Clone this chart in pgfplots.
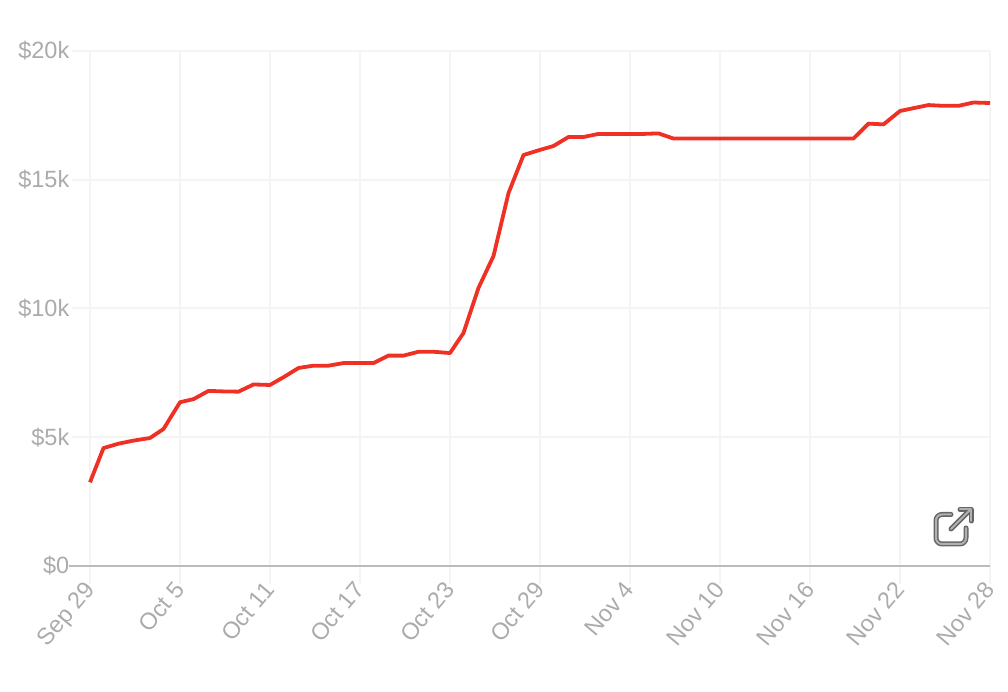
\documentclass[border=0pt]{standalone}
\usepackage{fontspec}
\setmainfont{Liberation Sans}
\usepackage{pgfplots}
\pgfplotsset{compat=1.18}
\usepackage{pgfplotstable}
\definecolor{gridc}{HTML}{F4F4F4}
\definecolor{axisc}{HTML}{BBBBBB}
\definecolor{labelc}{HTML}{ABABAB}
\definecolor{linec}{HTML}{EE3124}
\definecolor{iconc}{HTML}{666666}
\definecolor{iconi}{HTML}{B0B0B0}

% days since Sep 29, revenue in $k
\pgfplotstableread{
day value
0 3.25
0.9 4.58
1.9 4.75
2.9 4.87
4 4.97
4.9 5.32
6 6.36
6.9 6.48
7.9 6.80
8.9 6.78
9.9 6.77
10.9 7.05
12 7.03
12.9 7.33
13.9 7.69
14.9 7.78
15.9 7.78
16.9 7.88
18 7.88
18.9 7.88
19.9 8.17
20.9 8.17
21.9 8.32
22.9 8.32
24 8.27
24.9 9.05
25.9 10.80
26.9 12.04
27.9 14.48
28.9 15.96
30 16.16
30.9 16.31
31.9 16.66
32.9 16.66
33.9 16.78
34.9 16.78
36 16.78
36.9 16.78
37.9 16.80
38.9 16.60
39.9 16.60
40.9 16.60
42 16.60
42.9 16.60
43.9 16.60
44.9 16.60
45.9 16.60
46.9 16.60
48 16.60
48.9 16.60
49.9 16.60
50.9 16.60
51.9 17.18
52.9 17.15
54 17.67
54.9 17.78
55.9 17.90
56.9 17.87
57.9 17.87
58.9 18.00
60 17.98
}\revenue

\begin{document}
\begin{tikzpicture}[x=1bp,y=1bp]
\begin{axis}[
    at={(0,0)},
    anchor=south west,
    scale only axis,
    width=900bp,
    height=515bp,
    xmin=0, xmax=60,
    ymin=0, ymax=20,
    clip=false,
    axis line style={draw=none},
    xtick={0,6,...,60},
    xticklabels={Sep 29,Oct 5,Oct 11,Oct 17,Oct 23,Oct 29,Nov 4,Nov 10,Nov 16,Nov 22,Nov 28},
    ytick={0,5,10,15,20},
    yticklabels={\$0,\$5k,\$10k,\$15k,\$20k},
    xmajorgrids, ymajorgrids,
    grid style={draw=gridc,line width=2bp},
    major tick length=18bp,
    tick align=outside,
    xtick pos=bottom,
    ytick pos=left,
    tick style={draw=gridc,line width=2bp},
    tick label style={font=\fontsize{23.5bp}{26bp}\selectfont,text=labelc},
    x tick label style={xshift=-7bp,yshift=4bp,rotate=50,anchor=north east,inner sep=0pt},
    y tick label style={anchor=east,inner sep=0pt,xshift=-2.5bp},
]
\draw[axisc,line width=1.8bp] (axis cs:0,0) ++(-21bp,0) -- (axis cs:60,0);
\addplot[linec,line width=3.8bp,line join=round] table[x=day,y=value]{\revenue};
\end{axis}
% export icon
\begin{scope}[shift={(-90bp,566bp)},y=-1bp,x=1bp,line cap=round,line join=round]
\foreach \c/\w in {iconc/5bp,iconi/2bp}{
  \draw[\c,line width=\w] (951,514.5) -- (942,514.5) arc[start angle=270,end angle=180,radius=6,y=-1bp] -- (936,538) arc[start angle=180,end angle=90,radius=6] -- (960,544) arc[start angle=90,end angle=0,radius=6] -- (966,528);
  \draw[\c,line width=\w] (951,529) -- (970,510);
  \draw[\c,line width=\w] (960,509.5) -- (971,509.5) -- (971,521);
}
\end{scope}
\pgfresetboundingbox
\path (-90bp,-126bp) rectangle (918bp,566bp);
\end{tikzpicture}
\end{document}
